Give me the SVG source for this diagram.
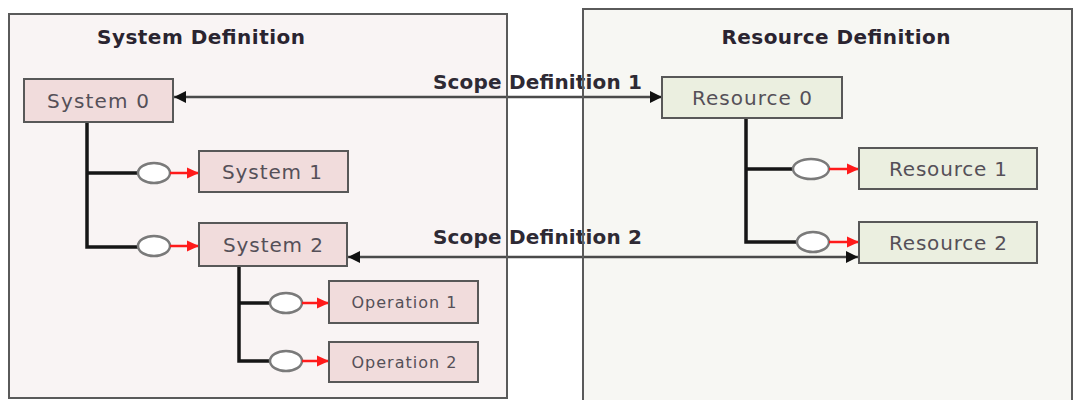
<svg xmlns="http://www.w3.org/2000/svg" width="1075" height="400" viewBox="0 0 1075 400">
  <defs>
    <style>
      .panel-fill { stroke: none; }
      .panel-edge { fill: none; stroke: #5a5a5a; stroke-width: 2; }
      .title { font-family: "DejaVu Sans", Verdana, sans-serif; font-weight: bold; font-size: 20px; fill: #2a2430; }
      .scope { font-family: "DejaVu Sans", Verdana, sans-serif; font-weight: bold; font-size: 20px; fill: #2e2a34; }
      .sys rect { fill: #f1dcdc; stroke: #585858; stroke-width: 2; }
      .res rect { fill: #ebefe0; stroke: #585858; stroke-width: 2; }
      .node text { font-family: "DejaVu Sans", Verdana, sans-serif; font-size: 20px; fill: #555058; text-anchor: middle; }
      .node.op text { font-size: 16px; }
      .tree { fill: none; stroke: #161616; stroke-width: 3.5; }
      .port { fill: #ffffff; stroke: #7a7a7a; stroke-width: 2.5; }
      .flow { stroke: #ff1a1a; stroke-width: 2.5; marker-end: url(#redHead); }
      .scope-line { stroke: #4a4a4a; stroke-width: 2.5; marker-start: url(#blackHead); marker-end: url(#blackHead); }
    </style>
    <marker id="blackHead" markerUnits="userSpaceOnUse" markerWidth="14" markerHeight="14" refX="12" refY="7" orient="auto-start-reverse">
      <path d="M0,1 L12,7 L0,13 z" fill="#111111"/>
    </marker>
    <marker id="redHead" markerUnits="userSpaceOnUse" markerWidth="14" markerHeight="14" refX="12" refY="7" orient="auto">
      <path d="M0,1.5 L12,7 L0,12.5 z" fill="#ff1a1a"/>
    </marker>
  </defs>

  <rect width="1075" height="400" fill="#ffffff"/>

  <!-- panel backgrounds -->
  <rect class="panel-fill" x="9" y="14" width="498" height="384" fill="#f9f4f4"/>
  <rect class="panel-fill" x="583" y="9" width="489" height="395" fill="#f7f7f3"/>

  <text class="title" x="201" y="44" text-anchor="middle" textLength="208">System Definition</text>
  <text class="title" x="836" y="44" text-anchor="middle" textLength="229">Resource Definition</text>

  <!-- connectors -->
  <g id="connectors">
    <!-- system hierarchy -->
    <path class="tree" d="M87,122 V247 H138 M87,173 H138"/>
    <path class="tree" d="M239,266 V361 H270 M239,303 H270"/>
    <!-- resource hierarchy -->
    <path class="tree" d="M746,118 V242 H797 M746,169 H793"/>

    <ellipse class="port" cx="154" cy="173" rx="16" ry="10"/>
    <ellipse class="port" cx="154" cy="246" rx="16" ry="10"/>
    <ellipse class="port" cx="286" cy="303" rx="16" ry="10"/>
    <ellipse class="port" cx="286" cy="361" rx="16" ry="10"/>
    <ellipse class="port" cx="811" cy="169" rx="18" ry="10"/>
    <ellipse class="port" cx="813" cy="242" rx="16" ry="10"/>

    <line class="flow" x1="170" y1="173" x2="199" y2="173"/>
    <line class="flow" x1="170" y1="246" x2="199" y2="246"/>
    <line class="flow" x1="302" y1="303" x2="329" y2="303"/>
    <line class="flow" x1="302" y1="361" x2="329" y2="361"/>
    <line class="flow" x1="829" y1="169" x2="859" y2="169"/>
    <line class="flow" x1="829" y1="242" x2="859" y2="242"/>

    <!-- scope links -->
    <line class="scope-line" x1="174" y1="97" x2="662" y2="97"/>
    <text class="scope" x="433" y="89" textLength="209">Scope Definition 1</text>
    <line class="scope-line" x1="348" y1="257" x2="858" y2="257"/>
    <text class="scope" x="433" y="244" textLength="209">Scope Definition 2</text>
  </g>

  <!-- panel borders drawn over the links and labels -->
  <rect class="panel-edge" x="9" y="14" width="498" height="384"/>
  <rect class="panel-edge" x="583" y="9" width="489" height="395"/>

  <!-- system nodes -->
  <g id="system0" class="node sys">
    <rect x="24" y="79" width="149" height="43"/>
    <text x="98" y="108" textLength="102">System 0</text>
  </g>
  <g id="system1" class="node sys">
    <rect x="199" y="151" width="149" height="41"/>
    <text x="272" y="179" textLength="100">System 1</text>
  </g>
  <g id="system2" class="node sys">
    <rect x="199" y="223" width="148" height="43"/>
    <text x="273" y="252" textLength="100">System 2</text>
  </g>
  <g id="operation1" class="node sys op">
    <rect x="329" y="281" width="149" height="42"/>
    <text x="404" y="308" textLength="105">Operation 1</text>
  </g>
  <g id="operation2" class="node sys op">
    <rect x="329" y="342" width="149" height="40"/>
    <text x="404" y="368" textLength="105">Operation 2</text>
  </g>

  <!-- resource nodes -->
  <g id="resource0" class="node res">
    <rect x="662" y="77" width="180" height="41"/>
    <text x="752" y="105" textLength="120">Resource 0</text>
  </g>
  <g id="resource1" class="node res">
    <rect x="859" y="148" width="178" height="41"/>
    <text x="948" y="176" textLength="118">Resource 1</text>
  </g>
  <g id="resource2" class="node res">
    <rect x="859" y="222" width="178" height="41"/>
    <text x="948" y="250" textLength="118">Resource 2</text>
  </g>
</svg>
